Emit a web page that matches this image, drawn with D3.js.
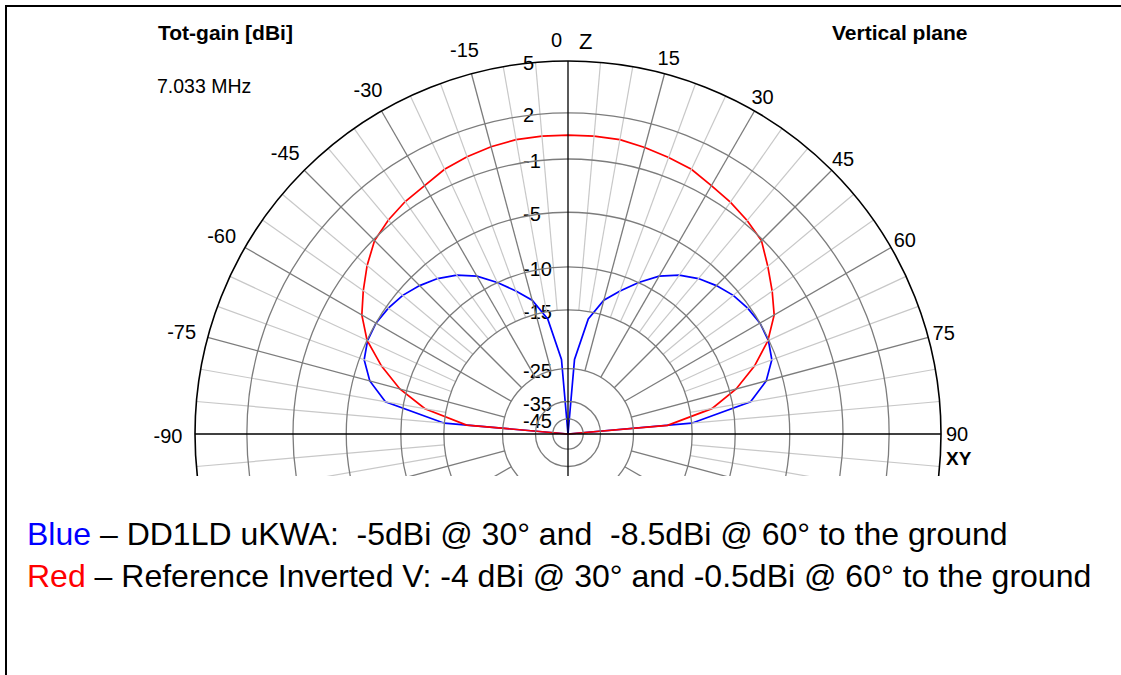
<!DOCTYPE html>
<html>
<head>
<meta charset="utf-8">
<script src="https://cdn.jsdelivr.net/npm/d3@7"></script>
<style>
  html, body { margin: 0; background: #fff; overflow: hidden; }
  svg { display: block; }
  svg text { font-family: "Liberation Sans", Arial, sans-serif; fill: #000; }
</style>
</head>
<body>
<svg id="chart" width="1121" height="675"></svg>
<script>
// zenith angle in degrees, 0 = straight up, +-90 = horizon
const angles = [-90,-85,-80,-75,-70,-65,-60,-55,-50,-45,-40,-35,-30,-25,-20,-15,-10,-5,0,
                5,10,15,20,25,30,35,40,45,50,55,60,65,70,75,80,85,90];
// total gain in dBi (-99 = null, drawn at centre)
const redGain = [-99,-18.2,-12.4,-9.3,-7.0,-5.0,-3.7,-2.8,-1.9,-1.1,-0.7,-0.4,-0.2,0.15,0.35,0.5,0.6,0.6,0.6,
                 0.6,0.6,0.45,0.3,0.15,-0.2,-0.45,-0.75,-1.1,-2.0,-2.85,-3.7,-5.1,-7.0,-9.3,-12.3,-18.5,-99];
const blueGain = [-99,-15.0,-8.2,-6.4,-5.4,-5.05,-5.0,-5.2,-5.5,-6.0,-6.6,-7.4,-8.5,-10.0,-11.6,-13.2,-16.0,-23.0,-99,
                  -23.0,-16.0,-13.2,-11.6,-10.0,-8.5,-7.4,-6.6,-6.0,-5.5,-5.2,-5.0,-5.05,-5.4,-6.4,-8.2,-15.0,-99];
const ringValues = [5, 2, -1, -5, -10, -15, -25, -35, -45];
const angleTicks = [-90, -75, -60, -45, -30, -15, 0, 15, 30, 45, 60, 75, 90];

const cx = 568, cy = 434, R = 373, clipBottom = 476;

const svg = d3.select('#chart');

// dB below the outer ring, then the EZNEC style log scale
const below = d3.scaleLinear().domain([5, -45]).range([0, 50]);
function rScale(g) {
  if (g < -50) return 0;
  const d = below(g);
  return R * Math.exp(-(0.049 * d + 0.0003 * d * d));
}
const aScale = d3.scaleLinear().domain([-90, 90]).range([-Math.PI / 2, Math.PI / 2]);

// frame (only top and left edges show in the picture)
svg.append('path')
  .attr('d', 'M6,675V6H1121')
  .attr('fill', 'none').attr('stroke', '#000').attr('stroke-width', 2);

svg.append('clipPath').attr('id', 'clip')
  .append('rect').attr('x', 0).attr('y', 0).attr('width', 1121).attr('height', clipBottom);

const g = svg.append('g')
  .attr('transform', 'translate(' + cx + ',' + cy + ')');
const grid = svg.append('g').attr('clip-path', 'url(#clip)')
  .append('g').attr('transform', 'translate(' + cx + ',' + cy + ')');

function pt(deg, r) {
  const a = deg * Math.PI / 180;
  return [r * Math.sin(a), -r * Math.cos(a)];
}

// radial lines every 5 degrees all round
const radials = d3.range(0, 360, 5).filter(d => d % 90 !== 0);
grid.selectAll('line.minor')
  .data(radials.filter(d => d % 15 !== 0))
  .enter().append('line')
  .attr('class', 'minor')
  .attr('x1', d => pt(d, rScale(-15))[0]).attr('y1', d => pt(d, rScale(-15))[1])
  .attr('x2', d => pt(d, R)[0]).attr('y2', d => pt(d, R)[1])
  .attr('stroke', '#c8c8c8').attr('stroke-width', 1.2);

grid.selectAll('circle.ring')
  .data(ringValues.slice(1))
  .enter().append('circle')
  .attr('class', 'ring')
  .attr('r', d => rScale(d))
  .attr('fill', 'none').attr('stroke', '#7c7c7c').attr('stroke-width', 1.3);

grid.selectAll('line.major')
  .data(radials.filter(d => d % 15 === 0))
  .enter().append('line')
  .attr('class', 'major')
  .attr('x1', d => pt(d, rScale(-25))[0]).attr('y1', d => pt(d, rScale(-25))[1])
  .attr('x2', d => pt(d, R)[0]).attr('y2', d => pt(d, R)[1])
  .attr('stroke', '#7c7c7c').attr('stroke-width', 1.3);

// axes
grid.append('line')
  .attr('x1', -R).attr('x2', R).attr('y1', 0).attr('y2', 0)
  .attr('stroke', '#000').attr('stroke-width', 1.3);
grid.append('line')
  .attr('x1', 0).attr('x2', 0).attr('y1', -R).attr('y2', clipBottom - cy + 5)
  .attr('stroke', '#000').attr('stroke-width', 1.3);

grid.append('circle')
  .attr('r', R)
  .attr('fill', 'none').attr('stroke', '#000').attr('stroke-width', 1.6);

// ring labels
g.selectAll('text.ringlab')
  .data(ringValues)
  .enter().append('text')
  .attr('class', 'ringlab')
  .attr('x', -45)
  .attr('y', d => -rScale(d) + 2)
  .attr('dy', '0.35em')
  .style('font-size', '20px')
  .text(d => d);

// pattern curves
const line = d3.lineRadial()
  .angle(d => aScale(d[0]))
  .radius(d => rScale(d[1]));

g.append('path')
  .datum(angles.map((a, i) => [a, blueGain[i]]))
  .attr('d', line)
  .attr('fill', 'none').attr('stroke', '#0000ff').attr('stroke-width', 1.7);

g.append('path')
  .datum(angles.map((a, i) => [a, redGain[i]]))
  .attr('d', line)
  .attr('fill', 'none').attr('stroke', '#ff0000').attr('stroke-width', 1.7);

// angle labels
g.selectAll('text.anglab')
  .data(angleTicks)
  .enter().append('text')
  .attr('class', 'anglab')
  .attr('x', d => d === 0 ? -6 : pt(d, R + (d < 0 ? 27 : 16))[0])
  .attr('y', d => d === 0 ? -394 : pt(d, R + (d < 0 ? 27 : 16))[1] + (d < 0 ? 2 : 0))
  .attr('dy', '0.35em')
  .attr('text-anchor', d => d === 0 ? 'end' : 'middle')
  .style('font-size', '20px')
  .text(d => d);

g.append('text')
  .attr('x', 11).attr('y', -393).attr('dy', '0.35em')
  .style('font-size', '22px')
  .text('Z');

g.append('text')
  .attr('x', 378).attr('y', 24).attr('dy', '0.35em')
  .style('font-size', '19px').style('font-weight', 'bold')
  .text('XY');

// titles
svg.append('text')
  .attr('x', 158).attr('y', 40)
  .style('font-size', '21px').style('font-weight', 'bold')
  .text('Tot-gain [dBi]');

svg.append('text')
  .attr('x', 157).attr('y', 93)
  .style('font-size', '19.5px')
  .text('7.033 MHz');

svg.append('text')
  .attr('x', 832).attr('y', 40)
  .style('font-size', '21px').style('font-weight', 'bold')
  .text('Vertical plane');

// legend lines
const legend = [
  {name: 'Blue', color: '#0000ff', rest: ' \u2013 DD1LD uKWA:  -5dBi @ 30\u00b0 and  -8.5dBi @ 60\u00b0 to the ground'},
  {name: 'Red', color: '#ff0000', rest: ' \u2013 Reference Inverted V: -4 dBi @ 30\u00b0 and -0.5dBi @ 60\u00b0 to the ground'}
];
const leg = svg.selectAll('text.leg')
  .data(legend)
  .enter().append('text')
  .attr('class', 'leg')
  .attr('x', 27)
  .attr('y', (d, i) => 545 + i * 42)
  .style('font-size', '32px')
  .style('white-space', 'pre');
leg.append('tspan').style('fill', d => d.color).text(d => d.name);
leg.append('tspan').text(d => d.rest);
</script>
</body>
</html>
